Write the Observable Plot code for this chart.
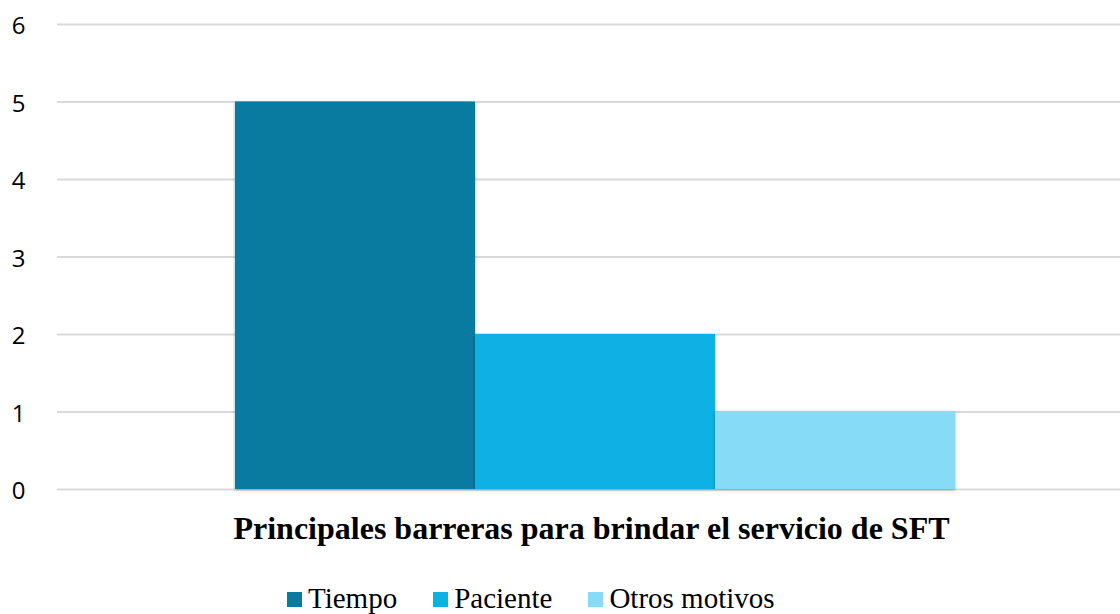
<!DOCTYPE html>
<html>
<head>
<meta charset="utf-8">
<script src="https://cdn.jsdelivr.net/npm/d3@7"></script>
<script src="https://cdn.jsdelivr.net/npm/@observablehq/plot@0.6"></script>
<style>
  html, body { margin: 0; padding: 0; background: #fff; width: 1120px; height: 614px; overflow: hidden; }
  #chart { position: relative; width: 1120px; height: 614px; }
  #chart svg { position: absolute; left: 0; top: 0; }
  .bars rect { filter: drop-shadow(0px 1px 1.5px rgba(0,0,0,0.35)); }
  #title { position: absolute; left: 0; width: 1183px; top: 510px; text-align: center; white-space: nowrap;
    font-family: "Liberation Serif", "Times New Roman", serif; font-weight: bold; font-size: 32px;
    line-height: 36px; color: #000; }
  #legend { position: absolute; left: 287px; top: 583px; display: flex;
    font-family: "Liberation Serif", "Times New Roman", serif; font-size: 29px; color: #000; }
  .item { display: flex; align-items: center; margin-right: 36px; line-height: 30px; }
  .sw { width: 15px; height: 15px; margin-right: 6px; margin-top: 3px; }
</style>
</head>
<body>
<div id="chart"></div>
<script>
const categories = ["Tiempo", "Paciente", "Otros motivos"];
const values = [5, 2, 1];
const colors = ["#0a7ba0", "#0eb1e3", "#86dbf6"];
const yTicks = [0, 1, 2, 3, 4, 5, 6];
const title = "Principales barreras para brindar el servicio de SFT";

const data = categories.map((c, i) => ({category: c, value: values[i]}));

const plot = Plot.plot({
  width: 1120,
  height: 505,
  marginTop: 24,
  marginBottom: 16,
  marginLeft: 57,
  marginRight: 0,
  style: {fontFamily: "'Open Sans', 'Noto Sans', sans-serif", fontSize: "24px", color: "#000", background: "transparent"},
  x: {domain: categories, range: [235, 955], padding: 0, axis: null},
  y: {domain: [0, 6], ticks: yTicks, label: null},
  color: {domain: categories, range: colors},
  marks: [
    Plot.ruleY(yTicks, {stroke: "#d9d9d9", strokeWidth: 2}),
    Plot.axisY(yTicks, {tickSize: 0, tickPadding: 32, tickFormat: "d", label: null, fontSize: 24, textAnchor: "end", dy: 2}),
    Plot.barY(data, {x: "category", y: "value", fill: "category", className: "bars", inset: 0})
  ]
});
document.getElementById("chart").appendChild(plot);

const t = document.createElement("div");
t.id = "title";
t.textContent = title;
document.getElementById("chart").appendChild(t);

const lg = document.createElement("div");
lg.id = "legend";
categories.forEach((c, i) => {
  const it = document.createElement("div");
  it.className = "item";
  const sw = document.createElement("div");
  sw.className = "sw";
  sw.style.background = colors[i];
  const lab = document.createElement("span");
  lab.textContent = c;
  it.appendChild(sw);
  it.appendChild(lab);
  lg.appendChild(it);
});
document.getElementById("chart").appendChild(lg);
</script>
</body>
</html>
